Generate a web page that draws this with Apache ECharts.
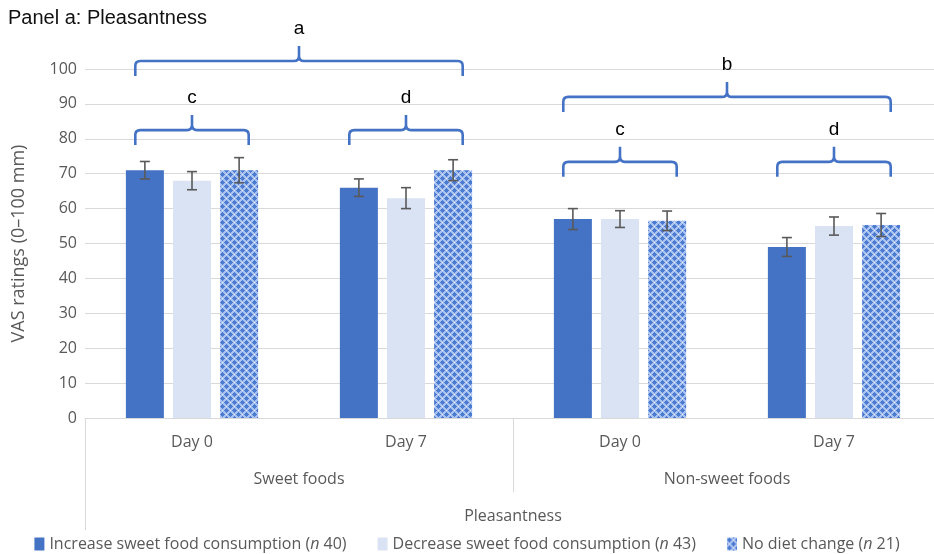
<!DOCTYPE html>
<html><head><meta charset="utf-8">
<script src="https://cdn.jsdelivr.net/npm/echarts@6/dist/echarts.min.js"></script>
<style>html,body{margin:0;padding:0;background:#fff}#c{width:934px;height:554px}</style>
</head><body><div id="c"></div>
<script>
// ---- data ----
var dayLabels = ['Day 0', 'Day 7', 'Day 0', 'Day 7'];
var foodGroups = ['Sweet foods', 'Non-sweet foods'];
var measure = ['Pleasantness'];
var seriesNames = ['Increase sweet food consumption (n 40)', 'Decrease sweet food consumption (n 43)', 'No diet change (n 21)'];
var increaseVals = [71, 66, 57, 49];
var decreaseVals = [68, 63, 57, 55];
var noChangeVals = [71, 71, 56.5, 55.3];
var increaseErr = [2.5, 2.5, 3.0, 2.7];
var decreaseErr = [2.6, 3.0, 2.4, 2.6];
var noChangeErr = [3.6, 3.0, 2.8, 3.3];
var yTicks = [0, 10, 20, 30, 40, 50, 60, 70, 80, 90, 100];
// braces: from category, to category, y value, letter
var braceFrom = [0, 0, 1, 2, 2, 3];
var braceTo = [1, 0, 1, 3, 2, 3];
var braceY = [102.3, 82.5, 82.5, 92.0, 73.4, 73.4];
var braceLetters = ['a', 'c', 'd', 'b', 'c', 'd'];

// ---- styling ----
var FONT = '"Open Sans", sans-serif';
var BLUE = '#4472C4';
var LIGHT = '#DAE3F3';
var BAR_W = 38, BAR_GAP = 0.24;

function makePattern() {
  var c = document.createElement('canvas');
  c.width = 8; c.height = 8;
  var g = c.getContext('2d');
  g.fillStyle = '#aac2ef'; g.fillRect(0, 0, 8, 8);
  g.fillStyle = '#4c7cd1';
  g.fillRect(0, 2, 5, 1); g.fillRect(2, 0, 1, 5); g.fillRect(1, 1, 3, 3);
  g.fillRect(4, 6, 4, 1); g.fillRect(0, 6, 1, 1);
  g.fillRect(6, 4, 1, 4); g.fillRect(6, 0, 1, 1);
  g.fillRect(5, 5, 3, 3);
  g.fillStyle = '#e8eefa';
  g.fillRect(6, 2, 1, 1); g.fillRect(2, 6, 1, 1);
  return c;
}
var pattern = makePattern();

var chart = echarts.init(document.getElementById('c'), null, {renderer: 'canvas'});

var allVals = [increaseVals, decreaseVals, noChangeVals];
var allErr = [increaseErr, decreaseErr, noChangeErr];
var errData = [];
for (var s = 0; s < 3; s++) {
  for (var i = 0; i < dayLabels.length; i++) {
    errData.push([i, allVals[s][i] - allErr[s][i], allVals[s][i] + allErr[s][i], s]);
  }
}
var braceData = braceFrom.map(function (f, i) { return [f, braceTo[i], braceY[i], braceLetters[i]]; });

function renderErr(params, api) {
  var idx = api.value(0), s = api.value(3);
  var lo = api.coord([idx, api.value(1)]);
  var hi = api.coord([idx, api.value(2)]);
  var x = lo[0] + (s - 1) * BAR_W * (1 + BAR_GAP);
  var cap = 5;
  var st = {stroke: '#595959', lineWidth: 1.6};
  return {type: 'group', children: [
    {type: 'line', shape: {x1: x, y1: lo[1], x2: x, y2: hi[1]}, style: st},
    {type: 'line', shape: {x1: x - cap, y1: lo[1], x2: x + cap, y2: lo[1]}, style: st},
    {type: 'line', shape: {x1: x - cap, y1: hi[1], x2: x + cap, y2: hi[1]}, style: st}
  ]};
}

function renderBrace(params, api) {
  var bw = api.size([1, 0])[0];
  var p0 = api.coord([api.value(0), api.value(2)]);
  var p1 = api.coord([api.value(1), api.value(2)]);
  var half = bw * 0.265;
  var x0 = p0[0] - half, x1 = p1[0] + half, y = p0[1];
  var xm = (x0 + x1) / 2;
  var h = 15, r = 5;
  var path = 'M' + x0 + ' ' + (y + h) +
    ' L' + x0 + ' ' + (y + r) + ' Q' + x0 + ' ' + y + ' ' + (x0 + r) + ' ' + y +
    ' L' + (xm - r) + ' ' + y + ' Q' + xm + ' ' + y + ' ' + xm + ' ' + (y - r) +
    ' L' + xm + ' ' + (y - h) +
    ' M' + xm + ' ' + (y - r) + ' Q' + xm + ' ' + y + ' ' + (xm + r) + ' ' + y +
    ' L' + (x1 - r) + ' ' + y + ' Q' + x1 + ' ' + y + ' ' + x1 + ' ' + (y + r) +
    ' L' + x1 + ' ' + (y + h);
  return {type: 'group', children: [
    {type: 'path', shape: {pathData: path}, style: {stroke: BLUE, lineWidth: 2.6, fill: null, lineJoin: 'round'}},
    {type: 'text', x: xm, y: y - h - 17, style: {text: api.value(3), fill: '#000', font: '19px "Liberation Sans", Arial, sans-serif', align: 'center', verticalAlign: 'middle'}}
  ]};
}

var barItem = function (name, vals, color) {
  return {name: name, type: 'bar', data: vals, barWidth: BAR_W, barGap: (BAR_GAP * 100) + '%',
    itemStyle: {color: color}, z: 2};
};

chart.setOption({
  animation: false,
  textStyle: {fontFamily: FONT},
  title: {text: 'Panel a: Pleasantness', left: 3, top: 3,
    textStyle: {fontFamily: '"Liberation Sans", Arial, sans-serif', fontSize: 20, fontWeight: 'normal', color: '#111'}},
  legend: {top: 531, left: 'center', itemWidth: 10, itemHeight: 13, itemGap: 31,
    icon: 'rect',
    textStyle: {fontSize: 16, color: '#595959', fontFamily: FONT,
      rich: {i: {fontStyle: 'italic', fontSize: 16, color: '#595959', fontFamily: FONT}}},
    formatter: function (n) { return n.replace(/\(n /, '({i|n} '); },
    data: seriesNames},
  grid: {left: 85, top: 69, bottom: 136, width: 856, containLabel: false, outerBoundsMode: 'none'},
  xAxis: [
    {type: 'category', data: dayLabels, position: 'bottom',
      axisLine: {lineStyle: {color: '#d9d9d9', width: 1}}, axisTick: {show: false},
      axisLabel: {margin: 16, fontSize: 16, color: '#595959'}},
    {type: 'category', data: foodGroups, position: 'bottom',
      axisLine: {show: false},
      axisTick: {show: true, length: 74, lineStyle: {color: '#d9d9d9'}},
      axisLabel: {margin: 53, fontSize: 16, color: '#595959'}},
    {type: 'category', data: measure, position: 'bottom',
      axisLine: {show: false},
      axisTick: {show: true, length: 112, lineStyle: {color: '#d9d9d9'}},
      axisLabel: {margin: 90, fontSize: 16, color: '#595959'}}
  ],
  yAxis: {type: 'value', min: yTicks[0], max: yTicks[yTicks.length - 1], interval: yTicks[1] - yTicks[0],
    name: 'VAS ratings (0–100 mm)', nameLocation: 'middle', nameGap: 57,
    nameTextStyle: {fontSize: 18, color: '#595959', fontFamily: FONT},
    axisLine: {show: false}, axisTick: {show: false},
    axisLabel: {margin: 8, fontSize: 16, color: '#595959'},
    splitLine: {lineStyle: {color: '#d9d9d9', width: 1}}},
  series: [
    barItem(seriesNames[0], increaseVals, BLUE),
    barItem(seriesNames[1], decreaseVals, LIGHT),
    barItem(seriesNames[2], noChangeVals, {image: pattern, repeat: 'repeat'}),
    {type: 'custom', name: 'err', data: errData, renderItem: renderErr, z: 5,
      encode: {x: 0, y: [1, 2]}, silent: true},
    {type: 'custom', name: 'braces', data: braceData, renderItem: renderBrace, clip: false, z: 6,
      encode: {x: [0, 1], y: 2}, silent: true}
  ]
});
</script></body></html>
